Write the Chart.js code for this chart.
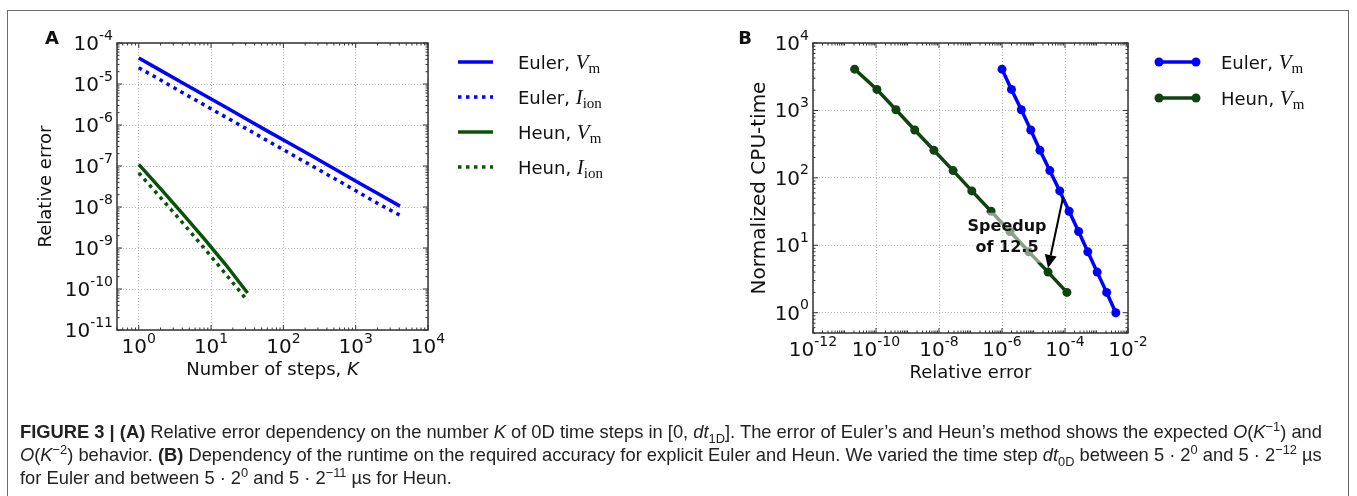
<!DOCTYPE html>
<html>
<head>
<meta charset="utf-8">
<script src="https://cdn.jsdelivr.net/npm/chart.js@4.4.0/dist/chart.umd.min.js"></script>
<style>
  body { margin: 0; background: #fff; width: 1357px; height: 496px; overflow: hidden; position: relative; }
  #frame { position: absolute; left: 7px; top: 10px; width: 1342px; height: 500px; border: 1.5px solid #6a6a6a; box-sizing: border-box; }
  #chartA { position: absolute; left: 0; top: 0; }
  #chartB { position: absolute; left: 700px; top: 0; }
  #caption { position: absolute; left: 20px; top: 420px; font-family: "Liberation Sans Narrow", "Liberation Sans", Arial, sans-serif; font-size: 19px; line-height: 23px; color: #222; }
  #caption .ln { white-space: nowrap; transform-origin: 0 0; width: max-content; }
  #caption sub, #caption sup { font-size: 70%; line-height: 0; }
</style>
</head>
<body>
<div id="frame"></div>
<canvas id="chartA" width="700" height="420"></canvas>
<canvas id="chartB" width="657" height="420"></canvas>
<div id="caption">
  <div class="ln"><b>FIGURE 3 | (A)</b> Relative error dependency on the number <i>K</i> of 0D time steps in [0, <i>dt</i><sub>1D</sub>]. The error of Euler’s and Heun’s method shows the expected <i>O</i>(<i>K</i><sup>−1</sup>) and</div>
  <div class="ln"><i>O</i>(<i>K</i><sup>−2</sup>) behavior. <b>(B)</b> Dependency of the runtime on the required accuracy for explicit Euler and Heun. We varied the time step <i>dt</i><sub>0D</sub> between 5 · 2<sup>0</sup> and 5 · 2<sup>−12</sup> µs</div>
  <div class="ln">for Euler and between 5 · 2<sup>0</sup> and 5 · 2<sup>−11</sup> µs for Heun.</div>
</div>
<script>
// panel A: relative error vs number of steps K
const kEuler = [1, 2, 4, 8, 16, 32, 64, 128, 256, 512, 1024, 2048, 4096];
const errEulerVm = [4.3e-5, 2.15e-5, 1.07e-5, 5.4e-6, 2.7e-6, 1.34e-6, 6.7e-7, 3.4e-7, 1.7e-7, 8.4e-8, 4.2e-8, 2.1e-8, 1.05e-8];
const errEulerIion = [2.5e-5, 1.25e-5, 6.2e-6, 3.1e-6, 1.55e-6, 7.8e-7, 3.9e-7, 1.95e-7, 9.8e-8, 4.9e-8, 2.45e-8, 1.2e-8, 6.3e-9];
const kHeun = [1, 2, 4, 8, 16, 32];
const errHeunVm = [1.1e-7, 2.8e-8, 7.0e-9, 1.7e-9, 3.9e-10, 8.0e-11];
const errHeunIion = [6.8e-8, 1.7e-8, 4.2e-9, 1.0e-9, 2.3e-10, 5.1e-11];

// panel B: normalized cpu time vs relative error
const relErrEuler = [1.0e-6, 2.0e-6, 4.1e-6, 8.2e-6, 1.6e-5, 3.3e-5, 6.8e-5, 1.35e-4, 2.7e-4, 5.3e-4, 1.05e-3, 2.1e-3, 4.1e-3];
const cpuEuler = [4096, 2048, 1024, 512, 256, 128, 64, 32, 16, 8, 4, 2, 1];
const relErrHeun = [2.1e-11, 1.07e-10, 4.3e-10, 1.7e-9, 6.9e-9, 2.8e-8, 1.1e-7, 4.5e-7, 1.8e-6, 7.1e-6, 2.9e-5, 1.15e-4];
const cpuHeun = [4096, 2048, 1024, 512, 256, 128, 64, 32, 16, 8, 4, 2];

// tick labels (base^exponent)
const ticksAx = [1, 10, 100, 1000, 10000];
const ticksAxLabels = ["10^0", "10^1", "10^2", "10^3", "10^4"];
const ticksAy = [1e-11, 1e-10, 1e-9, 1e-8, 1e-7, 1e-6, 1e-5, 1e-4];
const ticksAyLabels = ["10^-11", "10^-10", "10^-9", "10^-8", "10^-7", "10^-6", "10^-5", "10^-4"];
const ticksBx = [1e-12, 1e-10, 1e-8, 1e-6, 1e-4, 1e-2];
const ticksBxLabels = ["10^-12", "10^-10", "10^-8", "10^-6", "10^-4", "10^-2"];
const ticksBy = [1, 10, 100, 1000, 10000];
const ticksByLabels = ["10^0", "10^1", "10^2", "10^3", "10^4"];

// annotation in B
const arrowFrom = { x: 8.7e-5, y: 52 };
const arrowTo = { x: 2.9e-5, y: 4.6 };
const speedupAt = { x: 1.45e-6, y: 13.4 };
const speedupText = ["Speedup", "of 12.5"];

const BLUE = "#0000ff";
const GREEN_A = "#0a520a";
const GREEN_B = "#0f430f";
const SANS = "DejaVu Sans";

function pts(xs, ys) {
  return xs.map((x, i) => ({ x: x, y: ys[i] }));
}

function logAxis(min, max, vals, isX, fixed) {
  return {
    type: "logarithmic",
    min: min,
    max: max,
    afterBuildTicks: s => { s.ticks = vals.map(v => ({ value: v })); },
    afterFit: s => { if (isX) s.height = fixed; else s.width = fixed; },
    ticks: { display: false, autoSkip: false, maxRotation: 0 },
    grid: { color: "#b8b8b8", lineWidth: 1, drawTicks: false },
    border: { display: false, dash: [1, 2] }
  };
}

function minorVals(min, max) {
  const out = [];
  for (let d = Math.floor(Math.log10(min)); d <= Math.ceil(Math.log10(max)); d++) {
    for (let m = 1; m <= 9; m++) {
      const v = m * Math.pow(10, d);
      if (v >= min * 0.999 && v <= max * 1.001) out.push(v);
    }
  }
  return out;
}

// "10^-4" drawn as base with a raised exponent
function drawPow(ctx, label, x, y, align, size) {
  const parts = label.split("^");
  const esize = Math.round(size * 0.72);
  ctx.font = size + "px " + SANS;
  const wb = ctx.measureText(parts[0]).width;
  ctx.font = esize + "px " + SANS;
  const we = ctx.measureText(parts[1]).width;
  const x0 = align === "right" ? x - wb - we : x - (wb + we) / 2;
  ctx.textAlign = "left";
  ctx.textBaseline = "alphabetic";
  ctx.font = size + "px " + SANS;
  ctx.fillText(parts[0], x0, y);
  ctx.font = esize + "px " + SANS;
  ctx.fillText(parts[1], x0 + wb, y - size * 0.52);
}

// text made of pieces with different fonts (for V_m, I_ion, italic K)
function drawPieces(ctx, x, y, pieces, align) {
  let w = 0;
  pieces.forEach(p => { ctx.font = p.f; w += ctx.measureText(p.t).width; });
  let cx = align === "center" ? x - w / 2 : x;
  ctx.textBaseline = "alphabetic";
  ctx.textAlign = "left";
  pieces.forEach(p => {
    ctx.font = p.f;
    ctx.fillText(p.t, cx, y + (p.dy || 0));
    cx += ctx.measureText(p.t).width;
  });
}

function legendLabel(name, sym, sub) {
  return [
    { t: name + ", ", f: "18px " + SANS },
    { t: sym, f: "italic 21px 'Liberation Serif'" },
    { t: sub, f: "15px 'Liberation Serif'", dy: 4 }
  ];
}

const decor = {
  id: "decor",
  afterDatasetsDraw(chart, args, opts) {
    const ctx = chart.ctx;
    const a = chart.chartArea;
    const sx = chart.scales.x, sy = chart.scales.y;
    ctx.save();
    if (opts.extra) opts.extra(chart);
    // frame
    ctx.strokeStyle = "#333";
    ctx.lineWidth = 1.5;
    ctx.strokeRect(a.left, a.top, a.right - a.left, a.bottom - a.top);
    // tick marks, inward on all sides
    ctx.lineWidth = 1;
    ctx.beginPath();
    minorVals(sx.min, sx.max).forEach(v => {
      const x = sx.getPixelForValue(v);
      const L = opts.majorX.some(m => Math.abs(m / v - 1) < 1e-6) ? 5 : 2.5;
      ctx.moveTo(x, a.bottom); ctx.lineTo(x, a.bottom - L);
      ctx.moveTo(x, a.top); ctx.lineTo(x, a.top + L);
    });
    minorVals(sy.min, sy.max).forEach(v => {
      const y = sy.getPixelForValue(v);
      const L = opts.majorY.some(m => Math.abs(m / v - 1) < 1e-6) ? 5 : 2.5;
      ctx.moveTo(a.left, y); ctx.lineTo(a.left + L, y);
      ctx.moveTo(a.right, y); ctx.lineTo(a.right - L, y);
    });
    ctx.stroke();
    ctx.fillStyle = "#111";
    // tick labels
    opts.majorX.forEach((v, i) => {
      drawPow(ctx, opts.labelsX[i], sx.getPixelForValue(v), a.bottom + 23, "center", 20);
    });
    opts.majorY.forEach((v, i) => {
      drawPow(ctx, opts.labelsY[i], a.left - 4, sy.getPixelForValue(v) + 7, "right", 20);
    });
    // panel letter
    ctx.font = "bold 18px " + SANS;
    ctx.textAlign = "center";
    ctx.textBaseline = "middle";
    ctx.fillText(opts.letter, opts.letterX, 39);
    // axis titles
    drawPieces(ctx, (a.left + a.right) / 2, a.bottom + 45, opts.xTitle, "center");
    ctx.save();
    ctx.translate(opts.yTitleX, (a.top + a.bottom) / 2);
    ctx.rotate(-Math.PI / 2);
    ctx.font = opts.yTitleFont;
    ctx.textAlign = "center";
    ctx.textBaseline = "middle";
    ctx.fillText(opts.yTitle, 0, 0);
    ctx.restore();
    // legend
    opts.legend.forEach((item, i) => {
      const y = opts.legendY + i * opts.legendGap;
      ctx.save();
      ctx.strokeStyle = item.color;
      ctx.lineWidth = 3.5;
      ctx.setLineDash(item.dash || []);
      ctx.beginPath();
      ctx.moveTo(opts.legendX, y);
      ctx.lineTo(opts.legendX + opts.legendLen, y);
      ctx.stroke();
      if (item.marker) {
        ctx.fillStyle = item.color;
        [opts.legendX, opts.legendX + opts.legendLen].forEach(px => {
          ctx.beginPath(); ctx.arc(px, y, 4.5, 0, Math.PI * 2); ctx.fill();
        });
      }
      ctx.restore();
      ctx.fillStyle = "#111";
      drawPieces(ctx, opts.legendX + opts.legendLen + 25, y + 7, item.label, "left");
    });
    ctx.restore();
  }
};

Chart.register(decor);

new Chart(document.getElementById("chartA"), {
  type: "line",
  data: {
    datasets: [
      { data: pts(kEuler, errEulerVm), borderColor: BLUE, borderWidth: 3.5, pointRadius: 0 },
      { data: pts(kEuler, errEulerIion), borderColor: BLUE, borderWidth: 3.5, borderDash: [3.5, 4.5], pointRadius: 0 },
      { data: pts(kHeun, errHeunVm), borderColor: GREEN_A, borderWidth: 3.5, pointRadius: 0 },
      { data: pts(kHeun, errHeunIion), borderColor: GREEN_A, borderWidth: 3.5, borderDash: [3.5, 4.5], pointRadius: 0 }
    ]
  },
  options: {
    responsive: false,
    animation: false,
    events: [],
    layout: { padding: { top: 43, right: 272, left: 0, bottom: 0 } },
    scales: {
      x: logAxis(0.5, 1e4, ticksAx, true, 90),
      y: logAxis(1e-11, 1e-4, ticksAy, false, 117)
    },
    plugins: {
      legend: { display: false },
      tooltip: { enabled: false },
      decor: {
        letter: "A", letterX: 52,
        majorX: ticksAx, majorY: ticksAy,
        labelsX: ticksAxLabels, labelsY: ticksAyLabels,
        xTitle: [{ t: "Number of steps, ", f: "18px " + SANS }, { t: "K", f: "italic 18px " + SANS }],
        yTitle: "Relative error", yTitleX: 46, yTitleFont: "18px " + SANS,
        legendX: 458, legendY: 62, legendGap: 35, legendLen: 35,
        legend: [
          { color: BLUE, label: legendLabel("Euler", "V", "m") },
          { color: BLUE, dash: [3.5, 4.5], label: legendLabel("Euler", "I", "ion") },
          { color: GREEN_A, label: legendLabel("Heun", "V", "m") },
          { color: GREEN_A, dash: [3.5, 4.5], label: legendLabel("Heun", "I", "ion") }
        ]
      }
    }
  }
});

function speedupNote(chart) {
  const ctx = chart.ctx;
  const sx = chart.scales.x, sy = chart.scales.y;
  const cx = sx.getPixelForValue(speedupAt.x);
  const cy = sy.getPixelForValue(speedupAt.y);
  ctx.font = "bold 16px " + SANS;
  const w = Math.max(...speedupText.map(t => ctx.measureText(t).width));
  ctx.fillStyle = "rgba(255,255,255,0.5)";
  ctx.fillRect(cx - w / 2 - 3, cy - 24, w + 6, 50);
  ctx.fillStyle = "#111";
  ctx.textAlign = "center";
  ctx.textBaseline = "middle";
  ctx.fillText(speedupText[0], cx, cy - 10);
  ctx.fillText(speedupText[1], cx, cy + 11);
  // arrow
  const x1 = sx.getPixelForValue(arrowFrom.x), y1 = sy.getPixelForValue(arrowFrom.y);
  const x2 = sx.getPixelForValue(arrowTo.x), y2 = sy.getPixelForValue(arrowTo.y);
  const ang = Math.atan2(y2 - y1, x2 - x1);
  const hl = 13, hw = 6;
  const bx = x2 - hl * Math.cos(ang), by = y2 - hl * Math.sin(ang);
  ctx.strokeStyle = "#000";
  ctx.lineWidth = 2;
  ctx.beginPath(); ctx.moveTo(x1, y1); ctx.lineTo(bx, by); ctx.stroke();
  ctx.fillStyle = "#000";
  ctx.beginPath();
  ctx.moveTo(x2, y2);
  ctx.lineTo(bx + hw * Math.sin(ang), by - hw * Math.cos(ang));
  ctx.lineTo(bx - hw * Math.sin(ang), by + hw * Math.cos(ang));
  ctx.closePath();
  ctx.fill();
}

new Chart(document.getElementById("chartB"), {
  type: "line",
  data: {
    datasets: [
      { data: pts(relErrEuler, cpuEuler), borderColor: BLUE, backgroundColor: BLUE, borderWidth: 3.5, pointRadius: 4.5, pointBorderWidth: 0 },
      { data: pts(relErrHeun, cpuHeun), borderColor: GREEN_B, backgroundColor: GREEN_B, borderWidth: 3.5, pointRadius: 4.5, pointBorderWidth: 0 }
    ]
  },
  options: {
    responsive: false,
    animation: false,
    events: [],
    layout: { padding: { top: 43, right: 229, left: 0, bottom: 0 } },
    scales: {
      x: logAxis(1e-12, 1e-2, ticksBx, true, 87),
      y: logAxis(0.5, 1e4, ticksBy, false, 113)
    },
    plugins: {
      legend: { display: false },
      tooltip: { enabled: false },
      decor: {
        letter: "B", letterX: 45,
        majorX: ticksBx, majorY: ticksBy,
        labelsX: ticksBxLabels, labelsY: ticksByLabels,
        extra: speedupNote,
        xTitle: [{ t: "Relative error", f: "18px " + SANS }],
        yTitle: "Normalized CPU-time", yTitleX: 60, yTitleFont: "20px " + SANS,
        legendX: 459, legendY: 62, legendGap: 36, legendLen: 37,
        legend: [
          { color: BLUE, marker: true, label: legendLabel("Euler", "V", "m") },
          { color: GREEN_B, marker: true, label: legendLabel("Heun", "V", "m") }
        ]
      }
    }
  }
});

// stretch caption lines to the width of the original column
const lines = document.querySelectorAll("#caption .ln");
const w0 = lines[0].getBoundingClientRect().width;
const k = 1302 / w0;
lines.forEach(l => { l.style.transform = "scaleX(" + k + ")"; });
</script>
</body>
</html>
